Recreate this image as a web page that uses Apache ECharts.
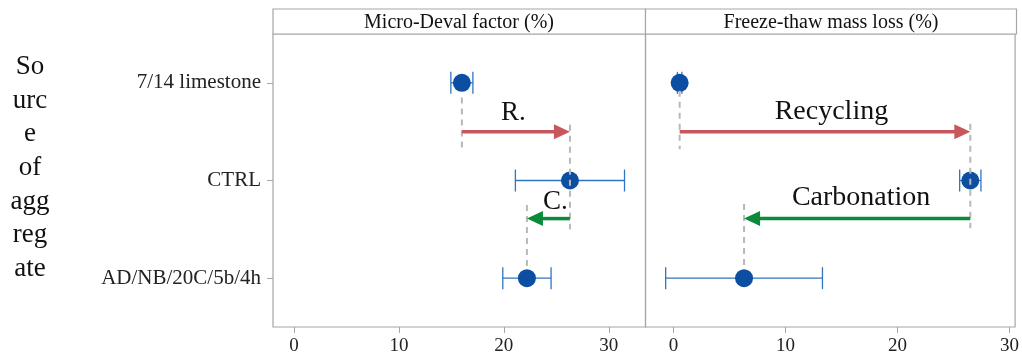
<!DOCTYPE html>
<html>
<head>
<meta charset="utf-8">
<script src="https://cdn.jsdelivr.net/npm/echarts@6/dist/echarts.min.js"></script>
<style>
  html, body { margin: 0; padding: 0; background: #fff; }
  #chart { width: 1022px; height: 358px; }
</style>
</head>
<body>
<div id="chart"></div>
<script>
  // 数据
  var categories = ['7/14 limestone', 'CTRL', 'AD/NB/20C/5b/4h'];
  var panelTitles = ['Micro-Deval factor (%)', 'Freeze-thaw mass loss (%)'];
  var xTicks = [0, 10, 20, 30];

  var mdMean = [16.0, 26.3, 22.2];
  var mdErr = [1.05, 5.2, 2.3];
  var ftMean = [0.55, 26.5, 6.3];
  var ftErr = [0.2, 0.95, 7.0];

  // 箭头: [起点类别, 终点类别, 纵向位置(0-3)]
  var arrowSteps = [[0, 1, 1.0], [1, 2, 1.89]];
  var mdLabels = ['R.', 'C.'];
  var mdLabelPos = [[20.9, 0.81], [24.9, 1.72]];
  var ftLabels = ['Recycling', 'Carbonation'];
  var ftLabelPos = [[14.1, 0.79], [16.75, 1.68]];
  // 虚线范围 (0-3)
  var mdGuide = [[0.65, 1.17], [0.93, 2.0], [1.75, 2.39]];
  var ftGuide = [[0.58, 1.18], [0.92, 1.99], [1.74, 2.4]];

  var serif = '"Liberation Serif", "DejaVu Serif", serif';
  var frameColor = '#a6a6a6';
  var arrowColors = ['#c8575d', '#0b8a3b'];

  var myChart = echarts.init(document.getElementById('chart'));

  function errData(mean, err) {
    return mean.map(function (m, i) { return [m - err[i], m + err[i], i]; });
  }
  function pointData(mean) {
    return mean.map(function (m, i) { return [m, i]; });
  }
  function guideData(mean, guide) {
    return mean.map(function (m, i) { return [m, guide[i][0], guide[i][1]]; });
  }
  function arrowData(mean) {
    return arrowSteps.map(function (a, i) {
      return { value: [mean[a[0]], mean[a[1]], a[2]], itemStyle: { color: arrowColors[i] } };
    });
  }

  function errSeries(g, mean, err) {
    return {
      type: 'custom', xAxisIndex: g, yAxisIndex: g * 2, z: 2,
      encode: { x: [0, 1], y: 2 },
      data: errData(mean, err),
      renderItem: function (params, api) {
        var a = api.coord([api.value(0), api.value(2)]);
        var b = api.coord([api.value(1), api.value(2)]);
        var h = 11;
        var st = { stroke: '#2f75c3', lineWidth: 1.3, fill: null };
        return {
          type: 'group', children: [
            { type: 'line', shape: { x1: a[0], y1: a[1], x2: b[0], y2: b[1] }, style: st },
            { type: 'line', shape: { x1: a[0], y1: a[1] - h, x2: a[0], y2: a[1] + h }, style: st },
            { type: 'line', shape: { x1: b[0], y1: b[1] - h, x2: b[0], y2: b[1] + h }, style: st }
          ]
        };
      }
    };
  }

  function pointSeries(g, mean) {
    return {
      type: 'scatter', xAxisIndex: g, yAxisIndex: g * 2, z: 3,
      symbolSize: 18,
      itemStyle: { color: '#0b4ea2', opacity: 1 },
      data: pointData(mean)
    };
  }

  function guideSeries(g, mean, guide) {
    return {
      type: 'custom', xAxisIndex: g, yAxisIndex: g * 2 + 1, z: 4,
      encode: { x: 0, y: [1, 2] },
      data: guideData(mean, guide),
      renderItem: function (params, api) {
        var a = api.coord([api.value(0), api.value(1)]);
        var b = api.coord([api.value(0), api.value(2)]);
        return {
          type: 'line',
          shape: { x1: a[0], y1: a[1], x2: b[0], y2: b[1] },
          style: { stroke: '#b8b8b8', lineWidth: 2, lineDash: [6, 5] }
        };
      }
    };
  }

  function arrowSeries(g, mean) {
    return {
      type: 'custom', xAxisIndex: g, yAxisIndex: g * 2 + 1, z: 5,
      encode: { x: [0, 1], y: 2 },
      data: arrowData(mean),
      renderItem: function (params, api) {
        var y = api.value(2);
        var p0 = api.coord([api.value(0), y]);
        var p1 = api.coord([api.value(1), y]);
        var dir = p1[0] > p0[0] ? 1 : -1;
        var head = 16, hh = 7.5;
        var color = api.visual('color');
        return {
          type: 'group', children: [
            {
              type: 'line',
              shape: { x1: p0[0], y1: p0[1], x2: p1[0] - dir * (head - 2), y2: p1[1] },
              style: { stroke: color, lineWidth: 3.5 }
            },
            {
              type: 'polygon',
              shape: { points: [[p1[0], p1[1]], [p1[0] - dir * head, p1[1] - hh], [p1[0] - dir * head, p1[1] + hh]] },
              style: { fill: color }
            }
          ]
        };
      }
    };
  }

  function labelSeries(g, pos, texts, size) {
    return {
      type: 'custom', xAxisIndex: g, yAxisIndex: g * 2 + 1, z: 6,
      encode: { x: 0, y: 1 },
      data: pos,
      renderItem: function (params, api) {
        var p = api.coord([api.value(0), api.value(1)]);
        return {
          type: 'text', x: p[0], y: p[1],
          style: {
            text: texts[params.dataIndex], fill: '#111',
            font: size + 'px ' + serif, align: 'center', verticalAlign: 'middle'
          }
        };
      }
    };
  }

  function xAxis(g, min, max) {
    return {
      type: 'value', gridIndex: g, min: min, max: max, position: 'bottom',
      axisLine: { show: false, onZero: false },
      splitLine: { show: false },
      axisTick: { show: true, length: 6, customValues: xTicks, lineStyle: { color: frameColor } },
      axisLabel: { customValues: xTicks, margin: 10, color: '#222', fontSize: 19, fontFamily: serif }
    };
  }

  var options = {
    backgroundColor: '#fff',
    animation: false,
    grid: [
      { left: 273, top: 34, width: 372.5, height: 293, show: true, borderColor: frameColor, borderWidth: 1.2, backgroundColor: 'transparent' },
      { left: 645.5, top: 34, width: 371, height: 293, show: true, borderColor: frameColor, borderWidth: 1.2, backgroundColor: 'transparent' }
    ],
    xAxis: [xAxis(0, -2, 33.5), xAxis(1, -2.5, 30.5)],
    yAxis: [
      {
        type: 'category', gridIndex: 0, data: categories, inverse: true, position: 'left',
        axisLine: { show: false, onZero: false },
        axisTick: { show: true, alignWithLabel: true, length: 6, lineStyle: { color: frameColor } },
        axisLabel: { margin: 12, color: '#222', fontSize: 21, fontFamily: serif }
      },
      { type: 'value', gridIndex: 0, min: 0, max: 3, inverse: true, show: false, splitLine: { show: false } },
      {
        type: 'category', gridIndex: 1, data: categories, inverse: true, position: 'left',
        axisLine: { show: false, onZero: false }, axisTick: { show: false }, axisLabel: { show: false }
      },
      { type: 'value', gridIndex: 1, min: 0, max: 3, inverse: true, show: false, splitLine: { show: false } }
    ],
    graphic: [
      {
        type: 'rect', shape: { x: 273, y: 9, width: 372.5, height: 25 },
        style: { fill: '#fff', stroke: frameColor, lineWidth: 1.2 }
      },
      {
        type: 'rect', shape: { x: 645.5, y: 9, width: 371, height: 25 },
        style: { fill: '#fff', stroke: frameColor, lineWidth: 1.2 }
      },
      {
        type: 'text', style: {
          x: 459, y: 23, text: panelTitles[0], fill: '#111',
          font: '20px ' + serif, align: 'center', verticalAlign: 'middle'
        }
      },
      {
        type: 'text', style: {
          x: 831, y: 23, text: panelTitles[1], fill: '#111',
          font: '20px ' + serif, align: 'center', verticalAlign: 'middle'
        }
      },
      {
        type: 'text', style: {
          x: 30, y: 50, text: 'So\nurc\ne\nof\nagg\nreg\nate', fill: '#111',
          font: '27px ' + serif, lineHeight: 33.7, align: 'center', verticalAlign: 'top'
        }
      }
    ],
    series: [
      errSeries(0, mdMean, mdErr),
      pointSeries(0, mdMean),
      guideSeries(0, mdMean, mdGuide),
      arrowSeries(0, mdMean),
      labelSeries(0, mdLabelPos, mdLabels, 27),
      errSeries(1, ftMean, ftErr),
      pointSeries(1, ftMean),
      guideSeries(1, ftMean, ftGuide),
      arrowSeries(1, ftMean),
      labelSeries(1, ftLabelPos, ftLabels, 28)
    ]
  };

  myChart.setOption(options);
</script>
</body>
</html>
